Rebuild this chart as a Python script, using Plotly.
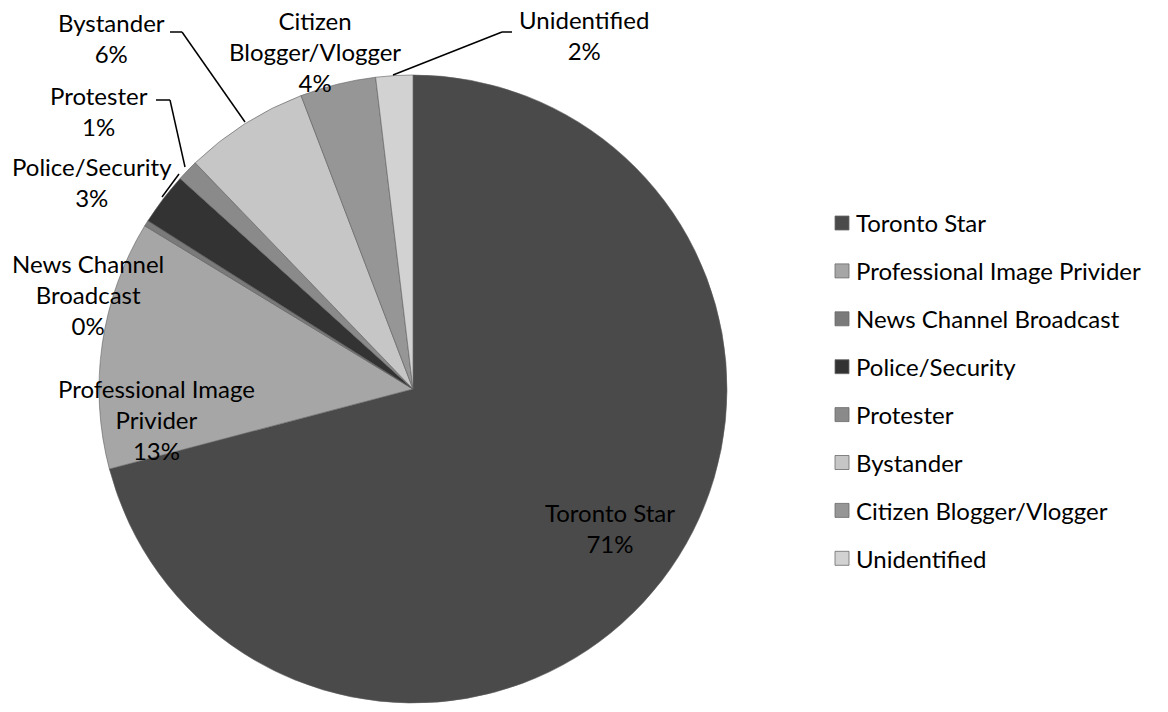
import plotly.graph_objects as go

W, H = 1168, 712

categories = ["Toronto Star", "Professional Image Privider", "News Channel Broadcast",
              "Police/Security", "Protester", "Bystander", "Citizen Blogger/Vlogger",
              "Unidentified"]
values = [70.9, 12.8, 0.3, 2.7, 1.1, 6.4, 3.9, 1.9]
wrapped_names = ["Toronto Star", "Professional Image<br>Privider", "News Channel<br>Broadcast",
                 "Police/Security", "Protester", "Bystander", "Citizen<br>Blogger/Vlogger",
                 "Unidentified"]
colors = ["#4a4a4a", "#a6a6a6", "#7a7a7a", "#333333", "#8a8a8a", "#c6c6c6", "#969696", "#d2d2d2"]

# label block centres (screen pixels) for the data labels
label_pos = [(610, 528), (156, 419), (88, 294), (92, 182), (99, 111), (111, 38), (315, 52), (584, 35)]
# leader lines (screen pixels)
leaders = [
    [(170, 32), (182, 32), (245, 122)],
    [(156, 100), (170, 100), (185, 167)],
    [(162, 197), (179, 174)],
    [(512, 32), (502, 32), (393, 75)],
]


def px(x, y):
    return x / W, 1 - y / H


FONT = "Lato, 'Open Sans', sans-serif"
FS = 24

pie_x0, pie_y0 = px(99, 703)
pie_x1, pie_y1 = px(727, 75)

fig = go.Figure()
fig.add_trace(go.Pie(
    labels=categories, values=values, sort=False, direction="clockwise", rotation=0,
    marker=dict(colors=colors, line=dict(color="#5e5e5e", width=0.6)),
    textinfo="none", showlegend=False, hoverinfo="skip",
    domain=dict(x=[pie_x0, pie_x1], y=[pie_y0, pie_y1]),
))

total = sum(values)
annotations = []
for name, v, (x, y) in zip(wrapped_names, values, label_pos):
    pct = round(v / total * 100)
    ax, ay = px(x, y)
    annotations.append(dict(
        x=ax, y=ay, xref="paper", yref="paper", xanchor="center", yanchor="middle",
        text=f"{name}<br>{pct}%", showarrow=False, align="center",
        font=dict(family=FONT, size=FS, color="#000000"),
    ))

# manual legend
leg_x0, leg_y0, leg_step = 835, 223, 47.9
shapes = []
for i, (name, c) in enumerate(zip(categories, colors)):
    cy = leg_y0 + i * leg_step
    x0, y1 = px(leg_x0, cy - 7)
    x1, y0 = px(leg_x0 + 14, cy + 7)
    shapes.append(dict(type="rect", xref="paper", yref="paper", x0=x0, x1=x1, y0=y0, y1=y1,
                       fillcolor=c, line=dict(color="#6a6a6a", width=0.8)))
    tx, ty = px(leg_x0 + 19, cy)
    annotations.append(dict(
        x=tx, y=ty, xref="paper", yref="paper", xanchor="left", yanchor="middle",
        text=name, showarrow=False, font=dict(family=FONT, size=FS, color="#000000"),
    ))

for pts in leaders:
    for (xa, ya), (xb, yb) in zip(pts[:-1], pts[1:]):
        x0, y0 = px(xa, ya)
        x1, y1 = px(xb, yb)
        shapes.append(dict(type="line", xref="paper", yref="paper", x0=x0, y0=y0, x1=x1, y1=y1,
                           line=dict(color="#000000", width=1.5)))

fig.update_layout(
    width=W, height=H, autosize=False,
    margin=dict(l=0, r=0, t=0, b=0),
    paper_bgcolor="#ffffff", plot_bgcolor="#ffffff",
    font=dict(family=FONT, size=FS, color="#000000"),
    annotations=annotations, shapes=shapes,
    hovermode=False,
)

fig.write_html("out.html",
               config={"displayModeBar": False, "staticPlot": True},
               post_script="document.body.style.margin='0';document.body.style.overflow='hidden';")
